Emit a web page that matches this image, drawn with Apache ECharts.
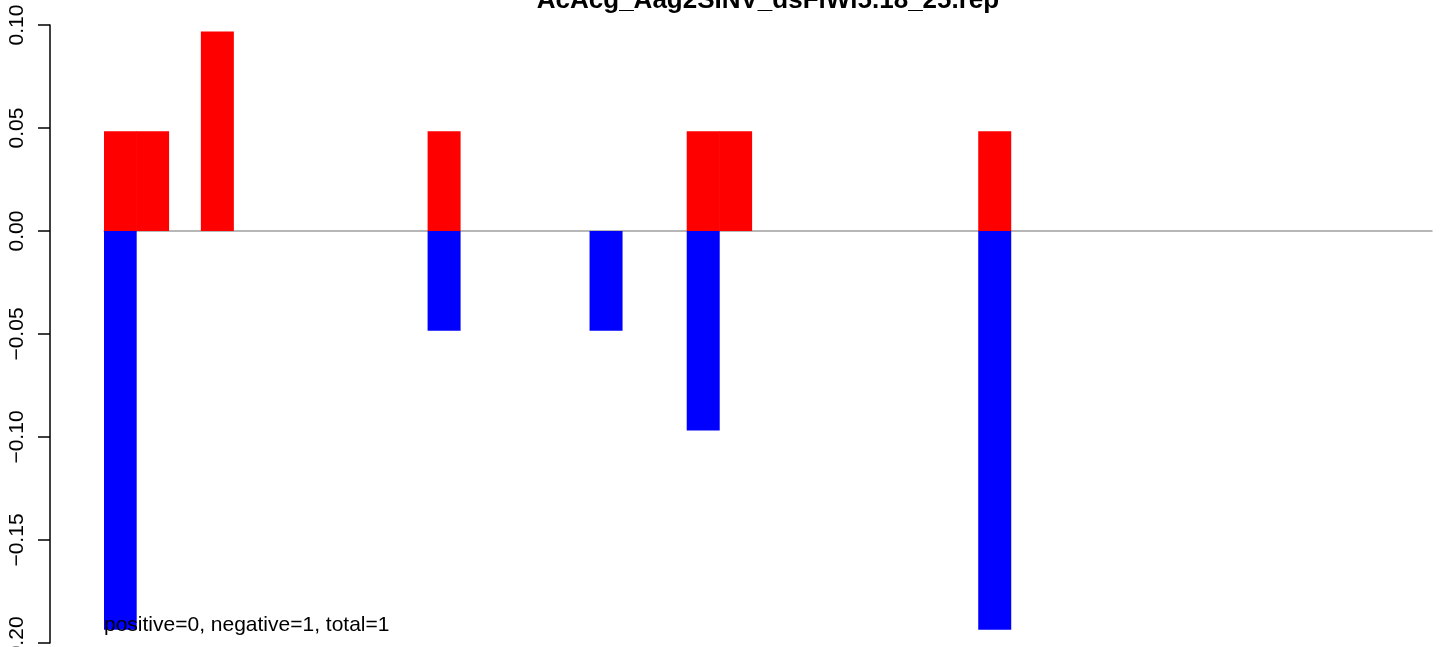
<!DOCTYPE html>
<html>
<head>
<meta charset="utf-8">
<script src="https://cdn.jsdelivr.net/npm/echarts@6/dist/echarts.min.js"></script>
<style>html,body{margin:0;padding:0;background:#fff}#c{width:1444px;height:647px}</style>
</head>
<body>
<div id="c"></div>
<script>
const titleText = "AcAcg_Aag2SINV_dsFlWl5.18_25.rep";
const noteText = "positive=0, negative=1, total=1";
const positions = Array.from({length: 41}, (_, i) => String(i));
const positiveVals = [0.0484,0.0484,null,0.0968,null,null,null,null,null,null,0.0484,null,null,null,null,null,null,null,0.0484,0.0484,null,null,null,null,null,null,null,0.0484,null,null,null,null,null,null,null,null,null,null,null,null,null];
const negativeVals = [-0.1936,null,null,null,null,null,null,null,null,null,-0.0484,null,null,null,null,-0.0484,null,null,-0.0968,null,null,null,null,null,null,null,null,-0.1936,null,null,null,null,null,null,null,null,null,null,null,null,null];
const yTicks = [-0.2, 0.1, 0.05];

const chart = echarts.init(document.getElementById('c'), null, {renderer: 'canvas'});
chart.setOption({
  animation: false,
  backgroundColor: '#ffffff',
  textStyle: {fontFamily: 'Liberation Sans, Arial, sans-serif'},
  grid: {left: 104, right: 12, top: 25, bottom: 4, containLabel: false, outerBoundsMode: 'none'},
  xAxis: {
    type: 'category', data: positions, boundaryGap: true,
    axisLine: {show: true, onZero: true, lineStyle: {color: '#a0a0a0', width: 1.5}},
    axisTick: {show: false}, axisLabel: {show: false}, splitLine: {show: false}
  },
  yAxis: {
    type: 'value', min: yTicks[0], max: yTicks[1], interval: yTicks[2], offset: 54,
    axisLine: {show: true, lineStyle: {color: '#000', width: 1.5}},
    axisTick: {show: true, inside: false, length: 12, lineStyle: {color: '#000', width: 1.5}},
    splitLine: {show: false},
    axisLabel: {
      show: true, rotate: 90, margin: 22, fontSize: 21, color: '#000',
      fontFamily: 'Liberation Sans, Arial, sans-serif',
      hideOverlap: false, showMinLabel: true, showMaxLabel: true,
      formatter: v => (v < 0 ? '\u2212' : '') + Math.abs(v).toFixed(2)
    }
  },
  series: [
    {type: 'bar', data: positiveVals, barWidth: 33, barGap: '-100%', itemStyle: {color: '#ff0000'}, silent: true},
    {type: 'bar', data: negativeVals, barWidth: 33, barGap: '-100%', itemStyle: {color: '#0000ff'}, silent: true}
  ],
  graphic: [
    {type: 'text', z: 100, style: {text: titleText, x: 768, y: 14, textAlign: 'center', textVerticalAlign: 'bottom', font: 'bold 26px "Liberation Sans", Arial, sans-serif', fill: '#000'}},
    {type: 'text', z: 100, style: {text: noteText, x: 104, y: 636, textAlign: 'left', textVerticalAlign: 'bottom', font: '21px "Liberation Sans", Arial, sans-serif', fill: '#000'}}
  ]
});
</script>
</body>
</html>
